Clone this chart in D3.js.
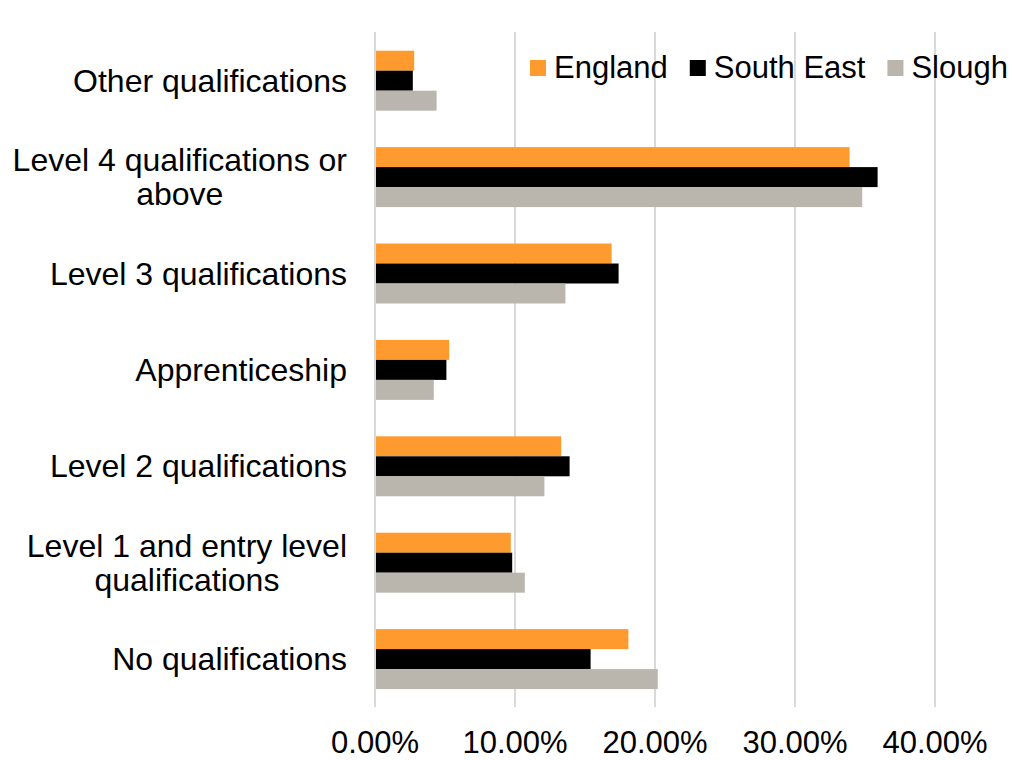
<!DOCTYPE html>
<html>
<head>
<meta charset="utf-8">
<script src="https://cdn.jsdelivr.net/npm/d3@7"></script>
<style>
  body { margin: 0; background: #fff; }
  text { font-family: Arial, "Liberation Sans", sans-serif; fill: #000; }
</style>
</head>
<body>
<svg width="1012" height="760"></svg>
<script>
// qualification categories, top to bottom (label lines as wrapped in the chart)
const categories = [
	['Other qualifications'],
	['Level 4 qualifications or', 'above'],
	['Level 3 qualifications'],
	['Apprenticeship'],
	['Level 2 qualifications'],
	['Level 1 and entry level', 'qualifications'],
	['No qualifications']
];
const seriesNames = ['England', 'South East', 'Slough'];
// values in percent, same order as categories
const england = [2.8, 33.9, 16.9, 5.3, 13.3, 9.7, 18.1];
const southEast = [2.7, 35.9, 17.4, 5.1, 13.9, 9.8, 15.4];
const slough = [4.4, 34.8, 13.6, 4.2, 12.1, 10.7, 20.2];
const ticks = [0, 10, 20, 30, 40];

const colors = ['#FF9A2E', '#000000', '#BAB5AD'];

let svg = d3.select('svg');

let x = d3.scaleLinear().domain([0, 40]).range([375, 935]);
let y = d3.scaleBand()
	.domain(d3.range(categories.length))
	.range([32.5, 707.3])
	.paddingInner(0.378)
	.paddingOuter(0.189);
let ySeries = d3.scaleBand().domain(d3.range(3)).range([0, y.bandwidth()]);

// gridlines
svg.append('g')
	.selectAll('line')
	.data(ticks)
	.join('line')
	.attr('x1', (d) => x(d))
	.attr('x2', (d) => x(d))
	.attr('y1', 32)
	.attr('y2', 707)
	.attr('stroke', '#D9D9D9')
	.attr('stroke-width', 2);

// bars
let rows = categories.map((c, i) => [england[i], southEast[i], slough[i]]);
svg.append('g')
	.selectAll('g')
	.data(rows)
	.join('g')
	.attr('transform', (d, i) => 'translate(0,' + y(i) + ')')
	.selectAll('rect')
	.data((d) => d)
	.join('rect')
	.attr('x', x(0) + 1)
	.attr('y', (d, j) => ySeries(j))
	.attr('width', (d) => x(d) - x(0) - 1)
	.attr('height', ySeries.bandwidth())
	.attr('fill', (d, j) => colors[j]);

// axis tick labels
svg.append('g')
	.selectAll('text')
	.data(ticks)
	.join('text')
	.attr('x', (d) => x(d))
	.attr('y', 753)
	.attr('text-anchor', 'middle')
	.style('font-size', '31px')
	.text((d) => d.toFixed(2) + '%');

// category labels: block right-aligned, lines centred within block
const labelRight = 347;
const lineHeight = 34;
let labels = svg.append('g')
	.selectAll('g')
	.data(categories)
	.join('g');
labels.each(function (lines, i) {
	let g = d3.select(this);
	let cy = y(i) + y.bandwidth() / 2;
	let texts = g.selectAll('text')
		.data(lines)
		.join('text')
		.style('font-size', '32px')
		.attr('y', (d, k) => cy + 11 + (k - (lines.length - 1) / 2) * lineHeight)
		.text((d) => d);
	let maxW = d3.max(texts.nodes(), (n) => n.getComputedTextLength());
	texts.attr('x', labelRight - maxW / 2).attr('text-anchor', 'middle');
});

// legend
let lx = 530;
seriesNames.forEach((name, i) => {
	svg.append('rect')
		.attr('x', lx)
		.attr('y', 60)
		.attr('width', 16)
		.attr('height', 16)
		.attr('fill', colors[i]);
	let t = svg.append('text')
		.attr('x', lx + 24)
		.attr('y', 78)
		.style('font-size', '31px')
		.text(name);
	lx += 24 + t.node().getComputedTextLength() + 22;
});
</script>
</body>
</html>
